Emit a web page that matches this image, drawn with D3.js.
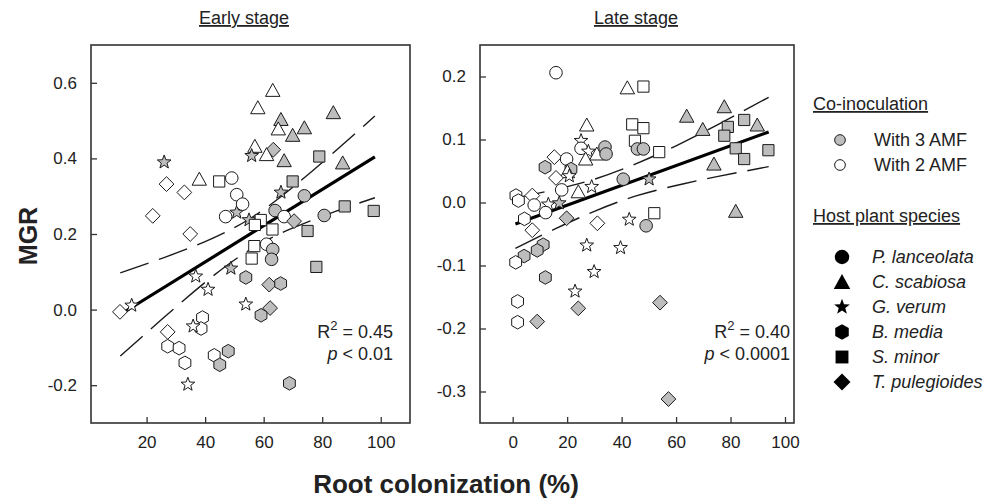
<!DOCTYPE html>
<html>
<head>
<meta charset="utf-8">
<script src="https://cdn.jsdelivr.net/npm/d3@7"></script>
<style>
  body { margin: 0; background: #fff; }
  svg { font-family: Arial, "Liberation Sans", sans-serif; }
</style>
</head>
<body>
<div id="chart"></div>
<script>
// species codes: P = P. lanceolata, C = C. scabiosa, G = G. verum,
// B = B. media, S = S. minor, T = T. pulegioides ; amf 3 = with 3 AMF (grey), 2 = with 2 AMF (white)
const earlyPoints = [
  [26.0, 0.390, "G", 3], [26.8, 0.332, "T", 2], [32.9, 0.310, "T", 2], [22.1, 0.248, "T", 2],
  [34.9, 0.200, "T", 2], [38.0, 0.345, "C", 2], [44.8, 0.339, "S", 2], [49.1, 0.348, "P", 2],
  [50.8, 0.304, "P", 2], [47.0, 0.246, "P", 2], [50.8, 0.257, "G", 3], [63.1, 0.580, "C", 2],
  [58.0, 0.534, "C", 2], [83.8, 0.521, "C", 3], [65.9, 0.503, "C", 3], [65.0, 0.478, "C", 2],
  [73.9, 0.481, "C", 3], [69.9, 0.461, "C", 3], [57.0, 0.432, "C", 2], [63.3, 0.423, "T", 3],
  [61.0, 0.410, "C", 2], [55.9, 0.407, "G", 3], [67.0, 0.394, "C", 3], [79.0, 0.405, "S", 3],
  [87.0, 0.388, "C", 3], [69.9, 0.339, "S", 3], [65.9, 0.310, "G", 3], [73.9, 0.301, "P", 3],
  [52.8, 0.279, "P", 2], [55.0, 0.237, "G", 3], [59.0, 0.237, "S", 2], [63.9, 0.262, "P", 3],
  [67.0, 0.246, "P", 2], [70.4, 0.234, "T", 3], [57.0, 0.224, "S", 2], [63.0, 0.212, "S", 2],
  [75.0, 0.208, "S", 3], [80.7, 0.249, "P", 3], [87.7, 0.273, "S", 3], [97.6, 0.261, "S", 3],
  [56.8, 0.168, "S", 2], [61.0, 0.173, "P", 2], [63.1, 0.159, "P", 3], [62.7, 0.133, "P", 3],
  [55.9, 0.135, "S", 2], [78.0, 0.113, "S", 3], [48.8, 0.109, "G", 3], [53.9, 0.085, "B", 3],
  [61.9, 0.066, "T", 3], [65.8, 0.069, "B", 3], [41.0, 0.053, "G", 2], [53.9, 0.014, "G", 2],
  [62.2, 0.004, "T", 3], [59.1, -0.015, "B", 3], [39.1, -0.021, "B", 2], [38.6, -0.050, "B", 2],
  [43.1, -0.121, "B", 2], [47.9, -0.110, "B", 3], [45.0, -0.146, "B", 3], [68.8, -0.195, "B", 3],
  [10.9, -0.006, "T", 2], [14.9, 0.011, "G", 2], [36.8, 0.088, "G", 2], [27.2, -0.059, "T", 2],
  [27.2, -0.097, "B", 2], [31.1, -0.102, "B", 2], [33.1, -0.141, "B", 2], [35.9, -0.044, "G", 2],
  [34.1, -0.198, "G", 2]
];

const latePoints = [
  [15.9, 0.206, "P", 2], [27.2, 0.123, "C", 2], [25.1, 0.098, "G", 2], [25.1, 0.086, "P", 2],
  [27.8, 0.081, "G", 2], [26.8, 0.069, "C", 2], [30.9, 0.077, "C", 2], [33.9, 0.088, "P", 3],
  [34.3, 0.077, "P", 3], [15.3, 0.072, "T", 2], [19.8, 0.069, "P", 2], [11.9, 0.056, "B", 3],
  [21.4, 0.053, "B", 3], [20.1, 0.049, "C", 2], [20.8, 0.042, "G", 2], [15.9, 0.039, "T", 2],
  [18.0, 0.020, "P", 2], [24.1, 0.017, "C", 2], [29.0, 0.025, "G", 2], [40.6, 0.037, "P", 3],
  [1.2, 0.011, "B", 2], [7.2, 0.011, "T", 2], [2.1, 0.003, "B", 2], [7.9, -0.004, "P", 2],
  [13.1, -0.003, "G", 2], [17.1, -0.001, "G", 3], [12.1, -0.016, "P", 2], [19.8, -0.025, "T", 3],
  [31.1, -0.033, "T", 2], [4.3, -0.026, "B", 2], [7.2, -0.044, "T", 2], [11.2, -0.067, "B", 3],
  [9.0, -0.076, "B", 3], [4.2, -0.085, "B", 3], [1.1, -0.095, "B", 2], [12.0, -0.119, "B", 3],
  [1.8, -0.157, "B", 2], [1.8, -0.190, "B", 2], [9.0, -0.189, "T", 3], [27.2, -0.068, "G", 2],
  [29.9, -0.110, "G", 2], [22.9, -0.141, "G", 2], [24.1, -0.168, "T", 3], [39.6, -0.072, "G", 2],
  [42.1, 0.182, "C", 2], [48.0, 0.184, "S", 2], [43.9, 0.124, "S", 2], [48.0, 0.118, "S", 2],
  [44.9, 0.098, "S", 2], [45.8, 0.085, "P", 3], [48.0, 0.085, "P", 3], [53.8, 0.080, "S", 2],
  [63.9, 0.137, "C", 3], [77.7, 0.152, "C", 3], [69.8, 0.116, "C", 3], [85.0, 0.131, "S", 3],
  [79.0, 0.120, "S", 3], [89.8, 0.123, "C", 3], [77.7, 0.106, "S", 3], [81.9, 0.086, "S", 3],
  [93.9, 0.083, "S", 3], [85.0, 0.069, "S", 3], [73.9, 0.061, "C", 3], [50.1, 0.037, "G", 3],
  [52.0, -0.017, "S", 2], [42.8, -0.027, "G", 2], [49.0, -0.037, "P", 3], [81.9, -0.014, "C", 3],
  [54.1, -0.159, "T", 3], [57.2, -0.312, "T", 3]
];

// regression line and 95% band
const earlyFitX = [11, 98];
const earlyFitY = [-0.013, 0.404];
const earlyBandX = [11, 25, 40, 55, 70, 85, 98];
const earlyUpper = [0.097, 0.135, 0.180, 0.239, 0.324, 0.423, 0.512];
const earlyLower = [-0.123, -0.027, 0.072, 0.157, 0.216, 0.261, 0.296];

const lateFitX = [1, 94];
const lateFitY = [-0.034, 0.112];
const lateBandX = [1, 15, 30, 45, 60, 75, 94];
const lateUpper = [0.007, 0.020, 0.037, 0.061, 0.090, 0.123, 0.167];
const lateLower = [-0.073, -0.043, -0.014, 0.010, 0.027, 0.041, 0.057];

const earlyXTicks = [20, 40, 60, 80, 100];
const earlyYTicks = [-0.2, 0.0, 0.2, 0.4, 0.6];
const lateXTicks = [0, 20, 40, 60, 80, 100];
const lateYTicks = [-0.3, -0.2, -0.1, 0.0, 0.1, 0.2];

const speciesCodes = ["P", "C", "G", "B", "S", "T"];
const speciesNames = ["P. lanceolata", "C. scabiosa", "G. verum", "B. media", "S. minor", "T. pulegioides"];
const amfNames = ["With 3 AMF", "With 2 AMF"];

const grey = "#bdbdbd";
const ink = "#1a1a1a";

const svg = d3.select("#chart").append("svg")
    .attr("width", 998)
    .attr("height", 500);

// marker shapes, centred on 0,0
function shape(code, s) {
    s = s || 1;
    if (code == "P") {
        const r = 6.3 * s;
        return `M${r},0A${r},${r} 0 1,1 ${-r},0A${r},${r} 0 1,1 ${r},0Z`;
    }
    if (code == "C") {
        const w = 7.2 * s, h = 6.5 * s;
        return `M0,${-h - 0.5}L${w},${h - 0.5}L${-w},${h - 0.5}Z`;
    }
    if (code == "S") {
        const a = 5.6 * s;
        return `M${-a},${-a}H${a}V${a}H${-a}Z`;
    }
    if (code == "T") {
        const a = 7.4 * s;
        return `M0,${-a}L${a},0L0,${a}L${-a},0Z`;
    }
    if (code == "B") {
        const r = 6.8 * s;
        let p = "";
        for (let i = 0; i < 6; i++) {
            const ang = Math.PI / 2 + i * Math.PI / 3;
            p += (i ? "L" : "M") + (r * Math.cos(ang)).toFixed(2) + "," + (r * Math.sin(ang)).toFixed(2);
        }
        return p + "Z";
    }
    // star
    const ro = 7.2 * s, ri = 3.0 * s;
    let p = "";
    for (let i = 0; i < 10; i++) {
        const r = i % 2 ? ri : ro;
        const ang = -Math.PI / 2 + i * Math.PI / 5;
        p += (i ? "L" : "M") + (r * Math.cos(ang)).toFixed(2) + "," + (r * Math.sin(ang)).toFixed(2);
    }
    return p + "Z";
}

const fmt = d => d3.format(".1f")(d).replace("−", "-");

function panel(opt) {
    const x = d3.scaleLinear().domain(opt.xDomain).range([opt.left, opt.right]);
    const y = d3.scaleLinear().domain(opt.yDomain).range([opt.bottom, opt.top]);
    const g = svg.append("g");

    g.append("g")
        .attr("transform", `translate(0,${opt.bottom})`)
        .call(d3.axisBottom(x).tickValues(opt.xTicks).tickSizeInner(-6).tickSizeOuter(0).tickPadding(13))
        .call(a => a.select(".domain").remove())
        .call(a => a.selectAll("line").attr("stroke", "#333").attr("stroke-width", 1.3))
        .call(a => a.selectAll("text").attr("font-size", 17).attr("fill", "#222").attr("font-family", null));

    g.append("g")
        .attr("transform", `translate(${opt.left},0)`)
        .call(d3.axisLeft(y).tickValues(opt.yTicks).tickFormat(fmt).tickSizeInner(-6).tickSizeOuter(0).tickPadding(14))
        .call(a => a.select(".domain").remove())
        .call(a => a.selectAll("line").attr("stroke", "#333").attr("stroke-width", 1.3))
        .call(a => a.selectAll("text").attr("font-size", 17).attr("fill", "#222").attr("font-family", null));

    g.append("rect")
        .attr("x", opt.left).attr("y", opt.top)
        .attr("width", opt.right - opt.left).attr("height", opt.bottom - opt.top)
        .attr("fill", "none").attr("stroke", "#333").attr("stroke-width", 1.6);

    // confidence band
    const band = d3.line().x(d => x(d[0])).y(d => y(d[1])).curve(d3.curveNatural);
    [opt.upper, opt.lower].forEach(vals => {
        g.append("path")
            .datum(opt.bandX.map((v, i) => [v, vals[i]]))
            .attr("d", band)
            .attr("fill", "none")
            .attr("stroke", ink)
            .attr("stroke-width", 1.4)
            .attr("stroke-dasharray", "30,11");
    });

    g.append("path")
        .datum(opt.fitX.map((v, i) => [v, opt.fitY[i]]))
        .attr("d", d3.line().x(d => x(d[0])).y(d => y(d[1])))
        .attr("stroke", "#000")
        .attr("stroke-width", 3.2)
        .attr("fill", "none");

    g.selectAll(".pt")
        .data(opt.points)
        .join("path")
        .attr("transform", d => `translate(${x(d[0])},${y(d[1])})`)
        .attr("d", d => shape(d[2]))
        .attr("fill", d => d[3] == 3 ? grey : "#fff")
        .attr("stroke", ink)
        .attr("stroke-width", 1);

    svg.append("text")
        .attr("x", opt.titleX).attr("y", 24)
        .attr("text-anchor", "middle")
        .attr("font-size", 18)
        .attr("fill", "#222")
        .style("text-decoration", "underline")
        .text(opt.title);

    svg.append("text")
        .attr("x", opt.statX).attr("y", 338)
        .attr("text-anchor", "end")
        .attr("font-size", 18).attr("fill", "#222")
        .call(t => {
            t.append("tspan").text("R");
            t.append("tspan").attr("dy", -8).attr("font-size", 13).text("2");
            t.append("tspan").attr("dy", 8).text(" = " + opt.r2);
        });

    svg.append("text")
        .attr("x", opt.statX).attr("y", 360)
        .attr("text-anchor", "end")
        .attr("font-size", 18).attr("fill", "#222")
        .call(t => {
            t.append("tspan").attr("font-style", "italic").text("p");
            t.append("tspan").text(" < " + opt.p);
        });
}

panel({
    points: earlyPoints, left: 91, right: 410, top: 45, bottom: 423,
    xDomain: [1, 110], yDomain: [-0.3, 0.7],
    xTicks: earlyXTicks, yTicks: earlyYTicks,
    fitX: earlyFitX, fitY: earlyFitY,
    bandX: earlyBandX, upper: earlyUpper, lower: earlyLower,
    title: "Early stage", titleX: 244, statX: 393, r2: "0.45", p: "0.01"
});

panel({
    points: latePoints, left: 480, right: 794, top: 45, bottom: 423,
    xDomain: [-12, 103.3], yDomain: [-0.35, 0.25],
    xTicks: lateXTicks, yTicks: lateYTicks,
    fitX: lateFitX, fitY: lateFitY,
    bandX: lateBandX, upper: lateUpper, lower: lateLower,
    title: "Late stage", titleX: 636, statX: 790, r2: "0.40", p: "0.0001"
});

// axis titles
svg.append("text")
    .attr("transform", "translate(37,236) rotate(-90)")
    .attr("text-anchor", "middle")
    .attr("font-size", 25).attr("font-weight", "bold").attr("fill", "#222")
    .text("MGR");

svg.append("text")
    .attr("x", 446).attr("y", 493)
    .attr("text-anchor", "middle")
    .attr("font-size", 26).attr("font-weight", "bold").attr("fill", "#222")
    .text("Root colonization (%)");

// legend
const leg = svg.append("g");
leg.append("text").attr("x", 813).attr("y", 110).attr("font-size", 18).attr("fill", "#222")
    .style("text-decoration", "underline").text("Co-inoculation");
amfNames.forEach((n, i) => {
    const yy = 140 + i * 25;
    leg.append("path").attr("transform", `translate(840,${yy})`)
        .attr("d", shape("P", 0.85))
        .attr("fill", i == 0 ? grey : "#fff").attr("stroke", ink);
    leg.append("text").attr("x", 874).attr("y", yy + 6).attr("font-size", 18).attr("fill", "#222").text(n);
});
leg.append("text").attr("x", 813).attr("y", 222).attr("font-size", 18).attr("fill", "#222")
    .style("text-decoration", "underline").text("Host plant species");
speciesCodes.forEach((c, i) => {
    const yy = 257 + i * 25;
    leg.append("path").attr("transform", `translate(842,${yy})`)
        .attr("d", shape(c, 1.15))
        .attr("fill", "#000");
    leg.append("text").attr("x", 872).attr("y", yy + 6).attr("font-size", 18)
        .attr("font-style", "italic").attr("fill", "#222").text(speciesNames[i]);
});
</script>
</body>
</html>
